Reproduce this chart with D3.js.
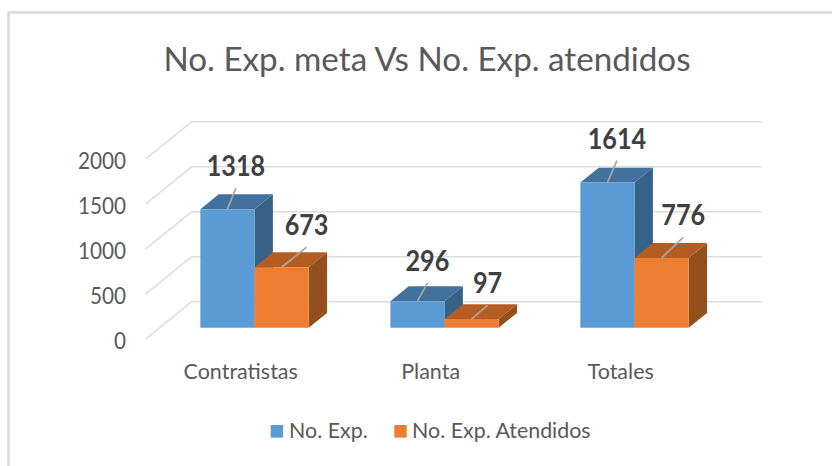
<!DOCTYPE html>
<html><head><meta charset="utf-8">
<script src="https://cdn.jsdelivr.net/npm/d3@7"></script>
<style>html,body{margin:0;padding:0;background:#fff}svg{display:block}text{font-family:Lato,"Open Sans",sans-serif}</style>
</head><body><svg id="c" width="832" height="466"></svg>
<script>
const categories = ["Contratistas", "Planta", "Totales"];
const seriesNames = ["No. Exp.", "No. Exp. Atendidos"];
const expValues = [1318, 296, 1614];
const atendidosValues = [673, 97, 776];
const yTicks = [0, 500, 1000, 1500, 2000];
const titleText = "No. Exp. meta Vs No. Exp. atendidos";
const leaderExp = [[8.5, -21], [10, -18], [9.5, -22]];
const leaderAtt = [[25, -20], [16, -14], [21.7, -20.5]];

const svg = d3.select("#c");
const W = 832, H = 466;
svg.append("path").attr("d", `M8.5 ${H}V12.5H${W}`).attr("fill", "none").attr("stroke", "#d9d9d9").attr("stroke-width", 2.4);

// horizontally squeeze a text to a share of its natural width
function squeeze(sel, k) {
  sel.each(function () {
    const len = this.getComputedTextLength();
    d3.select(this).attr("textLength", len * k).attr("lengthAdjust", "spacingAndGlyphs");
  });
  return sel;
}

const DX = 46, DY = -37.3;
const x = d3.scaleBand().domain(categories).range([145.7, 715.7]).paddingInner(0.43).paddingOuter(0.215);
const xs = d3.scaleBand().domain(seriesNames).range([0, x.bandwidth()]);
const y = d3.scaleLinear().domain([0, 2000]).range([339, 159]);
const px = (xv, d) => xv + d * DX;
const py = (v, d) => y(v) + d * DY;

const grid = svg.append("g").attr("fill", "none").attr("stroke", "#dcdcdc").attr("stroke-width", 1.6);
const rightEnd = x.range()[1] + DX;
grid.selectAll("path").data(yTicks).join("path")
  .attr("d", v => `M${px(145.7,0)} ${py(v,0)}L${px(145.7,1)} ${py(v,1)}H${rightEnd}`);

squeeze(svg.append("g").selectAll("text").data(yTicks).join("text")
  .attr("x", 126).attr("y", v => y(v) + 1.5).attr("dy", "0.35em").attr("text-anchor", "end")
  .attr("font-size", 23).attr("fill", "#595959").text(d => d), 0.9);

const colors = [
  {front: "#5b9bd5", top: "#41719c", side: "#376287"},
  {front: "#ed7d31", top: "#b55d20", side: "#94501c"}
];
const d0 = 0.3, d1 = 0.7;
function bar(g, xv, w, v, c) {
  const X0 = xv, X1 = xv + w;
  const poly = pts => pts.map(p => p.join(",")).join(" ");
  g.append("polygon").attr("fill", c.side).attr("points", poly([
    [px(X1,d0),py(0,d0)],[px(X1,d1),py(0,d1)],[px(X1,d1),py(v,d1)],[px(X1,d0),py(v,d0)]]));
  g.append("polygon").attr("fill", c.top).attr("points", poly([
    [px(X0,d0),py(v,d0)],[px(X1,d0),py(v,d0)],[px(X1,d1),py(v,d1)],[px(X0,d1),py(v,d1)]]));
  g.append("polygon").attr("fill", c.front).attr("points", poly([
    [px(X0,d0),py(0,d0)],[px(X1,d0),py(0,d0)],[px(X1,d0),py(v,d0)],[px(X0,d0),py(v,d0)]]));
}
function label(xv, w, v, off) {
  const sx = px(xv + w / 2, d0), sy = py(v, d0);
  const ex = sx + off[0], ey = sy + off[1];
  svg.append("line").attr("x1", sx).attr("y1", sy).attr("x2", ex).attr("y2", ey)
    .attr("stroke", "#a6a6a6").attr("stroke-width", 1.7);
  squeeze(svg.append("text").attr("x", ex).attr("y", ey - 12).attr("text-anchor", "middle")
    .attr("font-size", 28).attr("font-weight", 700).attr("fill", "#404040").text(v), 0.9);
}
const bars = svg.append("g");
categories.forEach((cat, i) => {
  const g = bars.append("g");
  bar(g, x(cat) + xs(seriesNames[0]), xs.bandwidth(), expValues[i], colors[0]);
  bar(g, x(cat) + xs(seriesNames[1]), xs.bandwidth(), atendidosValues[i], colors[1]);
});
categories.forEach((cat, i) => {
  label(x(cat) + xs(seriesNames[0]), xs.bandwidth(), expValues[i], leaderExp[i]);
  label(x(cat) + xs(seriesNames[1]), xs.bandwidth(), atendidosValues[i], leaderAtt[i]);
});

svg.append("g").selectAll("text").data(categories).join("text")
  .attr("x", c => x(c) + x.bandwidth() / 2).attr("y", 379).attr("text-anchor", "middle")
  .attr("font-size", 21.5).attr("fill", "#595959").text(d => d);

svg.append("text").attr("x", 427).attr("y", 71).attr("text-anchor", "middle")
  .attr("font-size", 33.2).attr("fill", "#595959").text(titleText);

const lg = svg.append("g");
[[270.7, 289], [394.3, 412]].forEach((p, i) => {
  lg.append("rect").attr("x", p[0]).attr("y", 425).attr("width", 12.4).attr("height", 12.6).attr("fill", colors[i].front);
  lg.append("text").attr("x", p[1]).attr("y", 438).attr("font-size", 21.4).attr("fill", "#595959").text(seriesNames[i]);
});
</script></body></html>
